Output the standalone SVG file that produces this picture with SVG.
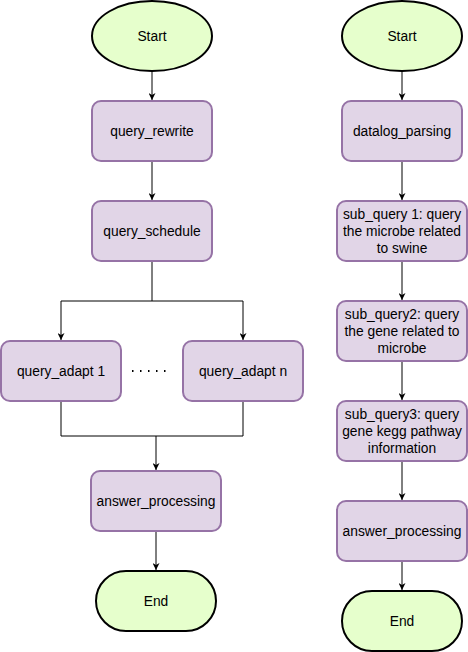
<svg xmlns="http://www.w3.org/2000/svg" width="468" height="652" viewBox="0 0 468 652">
<defs>
<style>
.term{fill:#e6ffcc;stroke:#000;stroke-width:2}
.proc{fill:#e1d5e7;stroke:#9673a6;stroke-width:2}
.lbl{font-family:"Liberation Sans",Arial,sans-serif;font-size:13.8px;fill:#000;text-anchor:middle}
.edge{fill:none;stroke:#000;stroke-width:1}
</style>
<marker id="arr" viewBox="0 0 10 10" refX="10" refY="5" markerWidth="7" markerHeight="7" markerUnits="userSpaceOnUse" orient="auto">
<path d="M0,0 L10,5 L0,10 L3,5 Z" fill="#000"/>
</marker>
</defs>
<rect width="468" height="652" fill="#fff"/>
<g id="connectors">
<path class="edge" d="M152,71 V100" marker-end="url(#arr)"/>
<path class="edge" d="M152,161 V200" marker-end="url(#arr)"/>
<path class="edge" d="M152,261 V301 H61 V340" marker-end="url(#arr)"/>
<path class="edge" d="M152,301 H243 V340" marker-end="url(#arr)"/>
<path class="edge" d="M61,401 V436 H156 V470" marker-end="url(#arr)"/>
<path class="edge" d="M243,401 V436 H156"/>
<path class="edge" d="M156,531 V570" marker-end="url(#arr)"/>
<path d="M132,371 H166" fill="none" stroke="#000" stroke-width="2" stroke-dasharray="1.5 6.5"/>
<path class="edge" d="M402,71 V100" marker-end="url(#arr)"/>
<path class="edge" d="M402,161 V200" marker-end="url(#arr)"/>
<path class="edge" d="M402,261 V300" marker-end="url(#arr)"/>
<path class="edge" d="M402,361 V400" marker-end="url(#arr)"/>
<path class="edge" d="M402,461 V500" marker-end="url(#arr)"/>
<path class="edge" d="M402,561 V590" marker-end="url(#arr)"/>
</g>
<g id="start_left">
<ellipse class="term" cx="152" cy="36" rx="60" ry="35"/>
<text class="lbl" x="152" y="41">Start</text>
</g>
<g id="query_rewrite">
<rect class="proc" x="92" y="101" width="120" height="60" rx="9"/>
<text class="lbl" x="152" y="136">query_rewrite</text>
</g>
<g id="query_schedule">
<rect class="proc" x="92" y="201" width="120" height="60" rx="9"/>
<text class="lbl" x="152" y="236">query_schedule</text>
</g>
<g id="query_adapt_1">
<rect class="proc" x="1" y="341" width="120" height="60" rx="9"/>
<text class="lbl" x="61" y="376">query_adapt 1</text>
</g>
<g id="query_adapt_n">
<rect class="proc" x="183" y="341" width="120" height="60" rx="9"/>
<text class="lbl" x="243" y="376">query_adapt n</text>
</g>
<g id="answer_processing_left">
<rect class="proc" x="91" y="471" width="130" height="60" rx="9"/>
<text class="lbl" x="156" y="506">answer_processing</text>
</g>
<g id="end_left">
<rect class="term" x="96" y="571" width="120" height="60" rx="30" ry="30"/>
<text class="lbl" x="156" y="606">End</text>
</g>
<g id="start_right">
<ellipse class="term" cx="402" cy="36" rx="60" ry="35"/>
<text class="lbl" x="402" y="41">Start</text>
</g>
<g id="datalog_parsing">
<rect class="proc" x="342" y="101" width="120" height="60" rx="9"/>
<text class="lbl" x="402" y="136">datalog_parsing</text>
</g>
<g id="sub_query_1">
<rect class="proc" x="337" y="201" width="130" height="60" rx="9"/>
<text class="lbl" x="402" y="218.5">sub_query 1: query</text>
<text class="lbl" x="402" y="235.5">the microbe related</text>
<text class="lbl" x="402" y="252.5">to swine</text>
</g>
<g id="sub_query_2">
<rect class="proc" x="337" y="301" width="130" height="60" rx="9"/>
<text class="lbl" x="402" y="318.5">sub_query2: query</text>
<text class="lbl" x="402" y="335.5">the gene related to</text>
<text class="lbl" x="402" y="352.5">microbe</text>
</g>
<g id="sub_query_3">
<rect class="proc" x="337" y="401" width="130" height="60" rx="9"/>
<text class="lbl" x="402" y="418.5">sub_query3: query</text>
<text class="lbl" x="402" y="435.5">gene kegg pathway</text>
<text class="lbl" x="402" y="452.5">information</text>
</g>
<g id="answer_processing_right">
<rect class="proc" x="337" y="501" width="130" height="60" rx="9"/>
<text class="lbl" x="402" y="536">answer_processing</text>
</g>
<g id="end_right">
<rect class="term" x="342" y="591" width="120" height="60" rx="30" ry="30"/>
<text class="lbl" x="402" y="626">End</text>
</g>
</svg>
